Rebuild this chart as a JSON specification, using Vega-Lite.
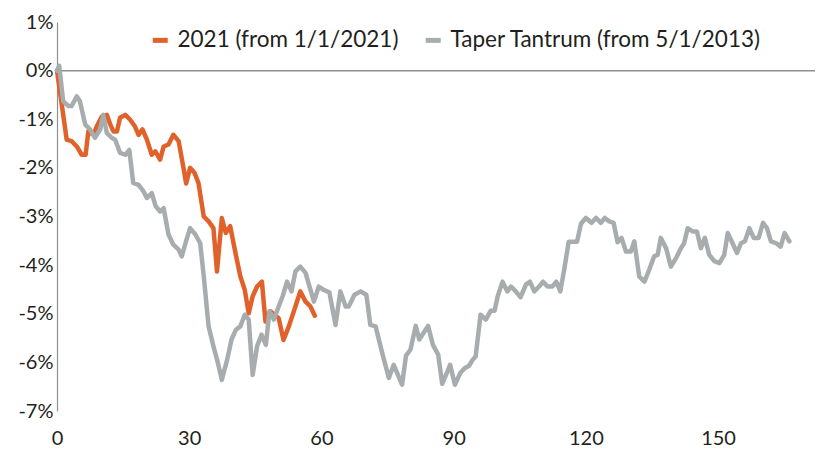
{
  "$schema": "https://vega.github.io/schema/vega-lite/v6.json",
  "width": 758,
  "height": 389,
  "autosize": {"type": "none"},
  "padding": {"left": 57, "top": 22, "right": 3, "bottom": 40},
  "background": "white",
  "config": {
    "view": {"stroke": null},
    "font": "Lato",
    "axis": {"labelFont": "Lato", "labelFontSize": 20, "labelColor": "#231f20", "grid": false, "ticks": false, "title": null},
    "legend": {"labelFont": "Lato", "labelFontSize": 22.5, "labelColor": "#231f20", "labelLimit": 0}
  },
  "datasets": {
    "s2021": [
      {"d":0,"v":0},{"d":2.2,"v":-1.42},{"d":3.3,"v":-1.45},{"d":4.5,"v":-1.56},{"d":5.6,"v":-1.73},{"d":6.5,"v":-1.73},{"d":7.1,"v":-1.25},{"d":8.3,"v":-1.32},{"d":9.0,"v":-1.15},{"d":10.2,"v":-0.94},{"d":11.3,"v":-0.91},{"d":12.1,"v":-1.11},{"d":12.8,"v":-1.25},{"d":13.6,"v":-1.25},{"d":14.3,"v":-0.97},{"d":15.5,"v":-0.91},{"d":16.6,"v":-1.01},{"d":17.7,"v":-1.15},{"d":18.5,"v":-1.32},{"d":19.4,"v":-1.21},{"d":20.4,"v":-1.42},{"d":21.5,"v":-1.73},{"d":22.3,"v":-1.66},{"d":23.4,"v":-1.83},{"d":24.2,"v":-1.56},{"d":25.3,"v":-1.52},{"d":26.4,"v":-1.32},{"d":27.6,"v":-1.45},{"d":28.7,"v":-2.0},{"d":29.3,"v":-2.32},{"d":30.2,"v":-2.0},{"d":31.2,"v":-2.1},{"d":32.1,"v":-2.31},{"d":33.3,"v":-3.0},{"d":34.4,"v":-3.1},{"d":35.5,"v":-3.24},{"d":36.3,"v":-4.13},{"d":37.4,"v":-3.03},{"d":38.3,"v":-3.34},{"d":39.3,"v":-3.2},{"d":40.5,"v":-3.75},{"d":41.6,"v":-4.23},{"d":42.6,"v":-4.51},{"d":43.5,"v":-4.99},{"d":44.4,"v":-4.64},{"d":45.4,"v":-4.44},{"d":46.5,"v":-4.34},{"d":47.3,"v":-5.16},{"d":48.4,"v":-4.95},{"d":50.3,"v":-5.09},{"d":51.4,"v":-5.54},{"d":52.6,"v":-5.26},{"d":54.1,"v":-4.85},{"d":55.2,"v":-4.54},{"d":56.4,"v":-4.75},{"d":57.5,"v":-4.85},{"d":58.5,"v":-5.04}
    ],
    "taper": [
      {"d":0,"v":0},{"d":0.5,"v":0.1},{"d":1.4,"v":-0.63},{"d":2.6,"v":-0.73},{"d":3.3,"v":-0.73},{"d":4.5,"v":-0.53},{"d":5.2,"v":-0.63},{"d":6.4,"v":-1.11},{"d":7.5,"v":-1.21},{"d":8.6,"v":-1.38},{"d":9.8,"v":-1.21},{"d":10.5,"v":-0.91},{"d":11.3,"v":-1.28},{"d":12.4,"v":-1.38},{"d":13.2,"v":-1.42},{"d":14.3,"v":-1.69},{"d":15.5,"v":-1.73},{"d":16.4,"v":-1.63},{"d":17.3,"v":-2.31},{"d":18.5,"v":-2.35},{"d":19.6,"v":-2.48},{"d":20.4,"v":-2.62},{"d":21.5,"v":-2.52},{"d":22.4,"v":-2.79},{"d":23.4,"v":-2.9},{"d":24.2,"v":-2.83},{"d":25.3,"v":-3.37},{"d":26.4,"v":-3.58},{"d":27.6,"v":-3.68},{"d":28.3,"v":-3.82},{"d":29.5,"v":-3.44},{"d":30.2,"v":-3.24},{"d":31.4,"v":-3.37},{"d":32.5,"v":-3.55},{"d":33.3,"v":-4.23},{"d":34.4,"v":-5.26},{"d":35.5,"v":-5.67},{"d":36.5,"v":-6.01},{"d":37.4,"v":-6.36},{"d":38.6,"v":-5.95},{"d":39.6,"v":-5.53},{"d":40.6,"v":-5.33},{"d":41.6,"v":-5.26},{"d":42.6,"v":-5.02},{"d":43.5,"v":-5.12},{"d":44.4,"v":-6.26},{"d":45.4,"v":-5.67},{"d":46.4,"v":-5.43},{"d":47.4,"v":-5.64},{"d":48.2,"v":-4.95},{"d":49.2,"v":-5.12},{"d":50.3,"v":-4.85},{"d":51.2,"v":-4.64},{"d":52.2,"v":-4.34},{"d":53.2,"v":-4.54},{"d":54.1,"v":-4.13},{"d":55.2,"v":-4.03},{"d":56.4,"v":-4.16},{"d":57.3,"v":-4.44},{"d":58.3,"v":-4.75},{"d":59.4,"v":-4.44},{"d":60.5,"v":-4.51},{"d":61.8,"v":-4.56},{"d":63.2,"v":-5.23},{"d":64.3,"v":-4.54},{"d":65.5,"v":-4.85},{"d":66.2,"v":-4.85},{"d":67.5,"v":-4.61},{"d":68.9,"v":-4.54},{"d":70.2,"v":-4.61},{"d":71.1,"v":-5.23},{"d":72.3,"v":-5.26},{"d":73.8,"v":-5.81},{"d":75.3,"v":-6.32},{"d":76.4,"v":-6.05},{"d":78.3,"v":-6.46},{"d":79.2,"v":-5.86},{"d":80.2,"v":-5.74},{"d":81.4,"v":-5.25},{"d":82.2,"v":-5.53},{"d":84.2,"v":-5.25},{"d":85.3,"v":-5.64},{"d":86.5,"v":-5.84},{"d":87.4,"v":-6.44},{"d":88.6,"v":-6.19},{"d":89.2,"v":-6.05},{"d":90.3,"v":-6.46},{"d":91.5,"v":-6.22},{"d":92.5,"v":-6.12},{"d":93.5,"v":-6.07},{"d":94.3,"v":-5.95},{"d":95.0,"v":-5.88},{"d":96.1,"v":-5.02},{"d":97.3,"v":-5.12},{"d":98.4,"v":-4.94},{"d":99.3,"v":-4.94},{"d":100.0,"v":-4.64},{"d":101.1,"v":-4.34},{"d":102.2,"v":-4.54},{"d":103.0,"v":-4.44},{"d":104.1,"v":-4.54},{"d":105.2,"v":-4.66},{"d":106.4,"v":-4.4},{"d":107.3,"v":-4.34},{"d":108.3,"v":-4.54},{"d":109.4,"v":-4.44},{"d":110.3,"v":-4.34},{"d":111.3,"v":-4.44},{"d":112.4,"v":-4.44},{"d":113.3,"v":-4.34},{"d":114.2,"v":-4.54},{"d":115.1,"v":-4.09},{"d":116.1,"v":-3.52},{"d":118.0,"v":-3.52},{"d":118.9,"v":-3.15},{"d":120.0,"v":-3.03},{"d":121.3,"v":-3.13},{"d":122.3,"v":-3.03},{"d":123.4,"v":-3.13},{"d":124.3,"v":-3.03},{"d":125.3,"v":-3.1},{"d":126.3,"v":-3.13},{"d":127.2,"v":-3.53},{"d":128.1,"v":-3.44},{"d":129.1,"v":-3.72},{"d":130.2,"v":-3.72},{"d":131.0,"v":-3.51},{"d":132.1,"v":-4.23},{"d":133.3,"v":-4.34},{"d":134.4,"v":-4.09},{"d":135.5,"v":-3.82},{"d":136.3,"v":-3.79},{"d":137.0,"v":-3.44},{"d":138.2,"v":-3.65},{"d":139.3,"v":-4.03},{"d":140.5,"v":-3.85},{"d":141.6,"v":-3.65},{"d":142.3,"v":-3.55},{"d":143.1,"v":-3.24},{"d":144.3,"v":-3.31},{"d":145.2,"v":-3.31},{"d":146.1,"v":-3.65},{"d":147.0,"v":-3.44},{"d":148.0,"v":-3.79},{"d":149.2,"v":-3.92},{"d":150.3,"v":-3.96},{"d":151.4,"v":-3.79},{"d":152.2,"v":-3.34},{"d":153.3,"v":-3.55},{"d":154.3,"v":-3.75},{"d":155.2,"v":-3.55},{"d":156.1,"v":-3.51},{"d":157.1,"v":-3.24},{"d":158.1,"v":-3.44},{"d":159.2,"v":-3.44},{"d":160.2,"v":-3.13},{"d":161.1,"v":-3.24},{"d":162.0,"v":-3.51},{"d":163.2,"v":-3.55},{"d":164.2,"v":-3.62},{"d":165.1,"v":-3.34},{"d":166.2,"v":-3.51}
    ]
  },
  "layer": [
    {
      "data": {"values": [{"z": 0}]},
      "mark": {"type": "rule", "color": "#8f8f8f", "strokeWidth": 1.5},
      "encoding": {"y": {"field": "z", "type": "quantitative", "scale": {"domain": [-7, 1], "nice": false}}}
    },
    {
      "data": {"name": "s2021"},
      "transform": [{"calculate": "'2021 (from 1/1/2021)'", "as": "series"}],
      "mark": {"type": "line", "strokeWidth": 4.5, "strokeJoin": "round", "strokeCap": "round"},
      "encoding": {
        "x": {"field": "d", "type": "quantitative", "scale": {"domain": [0, 172], "nice": false, "zero": false},
              "axis": {"values": [0, 30, 60, 90, 120, 150], "domain": false, "labelPadding": 17, "labelFlush": false}},
        "y": {"field": "v", "type": "quantitative", "scale": {"domain": [-7, 1], "nice": false},
              "axis": {"values": [-7, -6, -5, -4, -3, -2, -1, 0, 1], "labelExpr": "datum.value + '%'", "domain": true, "domainColor": "#8f8f8f", "domainWidth": 1.2, "labelPadding": 4}},
        "color": {"field": "series", "type": "nominal",
                  "scale": {"domain": ["2021 (from 1/1/2021)", "Taper Tantrum (from 5/1/2013)"], "range": ["#E0622A", "#A7ADAE"]},
                  "legend": {"title": null, "orient": "none", "legendX": 92, "legendY": 7, "direction": "horizontal", "symbolType": "stroke", "symbolSize": 225, "symbolStrokeWidth": 5, "labelOffset": 6, "columnPadding": 16, "labelLimit": 0}}
      }
    },
    {
      "data": {"name": "taper"},
      "transform": [{"calculate": "'Taper Tantrum (from 5/1/2013)'", "as": "series"}],
      "mark": {"type": "line", "strokeWidth": 4.5, "strokeJoin": "round", "strokeCap": "round"},
      "encoding": {
        "x": {"field": "d", "type": "quantitative"},
        "y": {"field": "v", "type": "quantitative"},
        "color": {"field": "series", "type": "nominal"}
      }
    }
  ]
}
